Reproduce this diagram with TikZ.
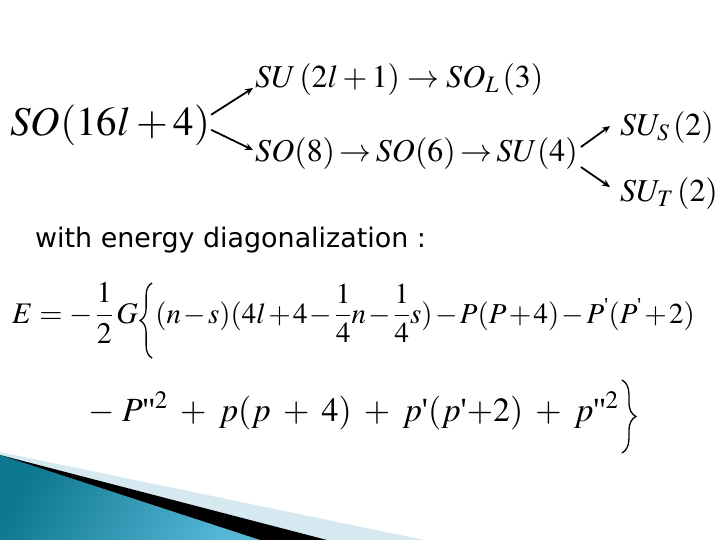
\documentclass[tikz,border=0pt]{standalone}
\usepackage{amsmath}
\usepackage{mathptmx}
\usepackage{fontspec}
\setmainfont{Liberation Serif}
\newfontfamily\sansf{DejaVu Sans}
\usetikzlibrary{arrows.meta,decorations.pathreplacing}
\definecolor{lightwedge}{HTML}{D6E9F0}
\definecolor{tealdark}{HTML}{0E7890}
\definecolor{teallight}{HTML}{55B6D6}
\newcommand{\sq}{\text{\textquotesingle}}
\begin{document}
\begin{tikzpicture}[x=1bp,y=-1bp,
  lbl/.style={anchor=base west,inner sep=0pt},
  arr/.style={line width=1.8bp,-{Stealth[length=8bp,width=7bp]}},
  bigbrace/.style={line width=1.3bp,decorate,decoration={brace,amplitude=#1}}]
\useasboundingbox (0,0) rectangle (720,540);
\fill[white] (0,0) rectangle (720,540);
% decoration
\fill[lightwedge] (0,452) -- (424,540) -- (0,540) -- cycle;
\fill[black] (0,455) -- (327,540) -- (0,540) -- cycle;
\shade[left color=tealdark,right color=teallight,shading angle=60] (0,455) -- (260,540) -- (0,540) -- cycle;
% group chain
\node[lbl,font=\fontsize{41}{50}\selectfont] (so) at (10,136) {$SO(16l+4)$};
\node[lbl,font=\fontsize{32}{38}\selectfont] (top) at (255,88) {$SU\,(2l+1)\rightarrow SO_L\,(3)$};
\node[lbl,font=\fontsize{32}{38}\selectfont] (mid) at (255,162) {$\thickmuskip=2.5mu SO(8)\rightarrow SO(6)\rightarrow SU(4)$};
\node[lbl,font=\fontsize{32}{38}\selectfont] (sus) at (620,136) {$SU_S\,(2)$};
\node[lbl,font=\fontsize{32}{38}\selectfont] (sut) at (620,202) {$SU_T\,(2)$};
\draw[arr] ([shift={(1,-11)}]so.east) -- ([shift={(-2,8)}]top.west);
\draw[arr] ([shift={(1,4)}]so.east) -- ([shift={(-2,-4)}]mid.west);
\draw[arr] ([shift={(3,-7)}]mid.east) -- ([shift={(-10,-2)}]sus.west);
\draw[arr] ([shift={(3,13)}]mid.east) -- ([shift={(-10,-7)}]sut.west);
% text
\node[lbl,font=\sansf\fontsize{27}{32}\selectfont] (txt) at (35,248) {with energy diagonalization :};
% energy, first line
\node[lbl,font=\fontsize{30}{36}\selectfont] (eq1a) at (12,323) {$E=-\,\dfrac{1}{2}\,G$};
\node[lbl,font=\fontsize{29}{35}\selectfont] (eq1b) at ([xshift=17bp]eq1a.base east) {$\medmuskip=1.5mu (n-s)(4l+4-\dfrac{1}{4}n-\dfrac{1}{4}s)-P(P+4)-P^{\sq}(P^{\sq}+2)$};
\draw[bigbrace=12bp] ([shift={(14,35)}]eq1a.base east) -- ([shift={(14,-40)}]eq1a.base east);
% energy, second line
\node[lbl,font=\fontsize{34}{40}\selectfont] (eq2) at (88,421) {$\medmuskip=6.5mu -\;P\sq\sq^{2}+p(p+4)+p\sq(p\sq{+}2)+p\sq\sq^{2}$};
\draw[bigbrace=14bp] ([shift={(3,-41)}]eq2.base east) -- ([shift={(3,32)}]eq2.base east);
\end{tikzpicture}
\end{document}
